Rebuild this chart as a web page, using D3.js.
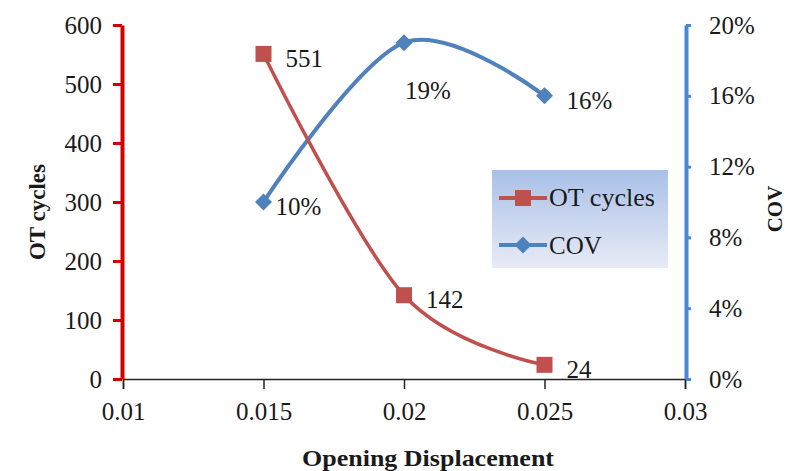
<!DOCTYPE html>
<html>
<head>
<meta charset="utf-8">
<script src="https://cdn.jsdelivr.net/npm/d3@7"></script>
<style>
  body { margin: 0; background: #fff; }
  text { font-family: "Liberation Serif", "Times New Roman", serif; fill: #1a1a1a; }
</style>
</head>
<body>
<div id="chart"></div>
<script>
const displacement = [0.015, 0.02, 0.025];
const otCycles = [551, 142, 24];
const cov = [0.10, 0.19, 0.16];
const xTicks = [0.01, 0.015, 0.02, 0.025, 0.03];
const leftTicks = [0, 100, 200, 300, 400, 500, 600];
const rightTicks = [0, 0.04, 0.08, 0.12, 0.16, 0.2];

const W = 789, H = 471;
const svg = d3.select("#chart").append("svg").attr("width", W).attr("height", H);

const x = d3.scaleLinear().domain([0.01, 0.03]).range([123, 685]);
const yL = d3.scaleLinear().domain([0, 600]).range([379, 25]);
const yR = d3.scaleLinear().domain([0, 0.2]).range([379, 25]);

const red = "#c0504d", blue = "#4f81bd";
const fs = "25px";

// x axis
const xAxis = svg.append("g")
    .attr("transform", "translate(0,379)")
    .call(d3.axisBottom(x).tickValues(xTicks).tickSize(10).tickFormat(d => String(+d.toFixed(3))));
xAxis.select(".domain").attr("stroke", "#222").attr("stroke-width", 1.5);
xAxis.selectAll(".tick line").attr("stroke", "#222").attr("stroke-width", 1.5);
xAxis.selectAll(".tick text").attr("y", 23).style("font-size", fs)
    .style("font-family", "Liberation Serif").attr("fill", "#1a1a1a");

// left axis
const lAxis = svg.append("g")
    .attr("transform", "translate(122,0)")
    .call(d3.axisLeft(yL).tickValues(leftTicks).tickSize(9).tickSizeOuter(0));
lAxis.select(".domain").attr("stroke", "#d40000").attr("stroke-width", 4);
lAxis.selectAll(".tick line").attr("stroke", "#d40000").attr("stroke-width", 3);
lAxis.selectAll(".tick text").attr("x", -20).style("font-size", fs)
    .style("font-family", "Liberation Serif").attr("fill", "#1a1a1a");

// right axis
const rAxis = svg.append("g")
    .attr("transform", "translate(686,0)")
    .call(d3.axisRight(yR).tickValues(rightTicks).tickSize(5).tickSizeOuter(0).tickFormat(d3.format(".0%")));
rAxis.select(".domain").attr("stroke", "#4a86d4").attr("stroke-width", 4);
rAxis.selectAll(".tick line").attr("stroke", "#4a86d4").attr("stroke-width", 3);
rAxis.selectAll(".tick text").attr("x", 23).style("font-size", fs)
    .style("font-family", "Liberation Serif").attr("fill", "#1a1a1a");

// axis titles
svg.append("text")
    .attr("transform", "translate(45,212) rotate(-90)")
    .attr("text-anchor", "middle")
    .style("font-size", "23px").style("font-weight", "bold")
    .text("OT cycles");
svg.append("text")
    .attr("transform", "translate(782,209) rotate(-90)")
    .attr("text-anchor", "middle")
    .style("font-size", "21px").style("font-weight", "bold")
    .text("COV");
svg.append("text")
    .attr("x", 428).attr("y", 466)
    .attr("text-anchor", "middle")
    .attr("textLength", 252).attr("lengthAdjust", "spacingAndGlyphs")
    .style("font-size", "23px").style("font-weight", "bold")
    .text("Opening Displacement");

// series
const curve = d3.curveCardinal.tension(0);
const otLine = d3.line().x((d, i) => x(displacement[i])).y(d => yL(d)).curve(curve);
const covLine = d3.line().x((d, i) => x(displacement[i])).y(d => yR(d)).curve(curve);

svg.append("path").datum(cov).attr("d", covLine)
    .attr("fill", "none").attr("stroke", blue).attr("stroke-width", 4);
svg.append("path").datum(otCycles).attr("d", otLine)
    .attr("fill", "none").attr("stroke", red).attr("stroke-width", 3.5);

svg.selectAll(".cov-pt").data(cov).enter().append("path")
    .attr("class", "cov-pt")
    .attr("transform", (d, i) => `translate(${x(displacement[i])},${yR(d)}) rotate(45)`)
    .attr("d", "M-6,-6H6V6H-6Z")
    .attr("fill", blue);
svg.selectAll(".ot-pt").data(otCycles).enter().append("rect")
    .attr("class", "ot-pt")
    .attr("x", (d, i) => x(displacement[i]) - 8)
    .attr("y", d => yL(d) - 8)
    .attr("width", 16).attr("height", 16)
    .attr("fill", red);

// data labels
svg.selectAll(".ot-lbl").data(otCycles).enter().append("text")
    .attr("x", (d, i) => x(displacement[i]) + 22)
    .attr("y", d => yL(d) + 13)
    .style("font-size", fs)
    .text(d => d);
const covOff = [[12, 13], [1, 56], [22, 13]];
svg.selectAll(".cov-lbl").data(cov).enter().append("text")
    .attr("x", (d, i) => x(displacement[i]) + covOff[i][0])
    .attr("y", (d, i) => yR(d) + covOff[i][1])
    .style("font-size", fs)
    .text(d => d3.format(".0%")(d));

// legend
const defs = svg.append("defs");
const grad = defs.append("linearGradient").attr("id", "lg").attr("x1", 0).attr("y1", 0).attr("x2", 0).attr("y2", 1);
grad.append("stop").attr("offset", "0%").attr("stop-color", "#a9c0e8");
grad.append("stop").attr("offset", "100%").attr("stop-color", "#e8ebf5");
const lg = svg.append("g");
lg.append("rect").attr("x", 492).attr("y", 170).attr("width", 176).attr("height", 98).attr("fill", "url(#lg)");
lg.append("line").attr("x1", 499).attr("x2", 547).attr("y1", 198).attr("y2", 198)
    .attr("stroke", red).attr("stroke-width", 4);
lg.append("rect").attr("x", 515).attr("y", 190).attr("width", 16).attr("height", 16).attr("fill", red);
lg.append("text").attr("x", 549).attr("y", 206).attr("textLength", 106).attr("lengthAdjust", "spacingAndGlyphs")
    .style("font-size", "25px").text("OT cycles");
lg.append("line").attr("x1", 499).attr("x2", 547).attr("y1", 245).attr("y2", 245)
    .attr("stroke", blue).attr("stroke-width", 4);
lg.append("path").attr("transform", "translate(523,245) rotate(45)").attr("d", "M-6,-6H6V6H-6Z").attr("fill", blue);
lg.append("text").attr("x", 549).attr("y", 254).style("font-size", "25px").text("COV");
</script>
</body>
</html>
